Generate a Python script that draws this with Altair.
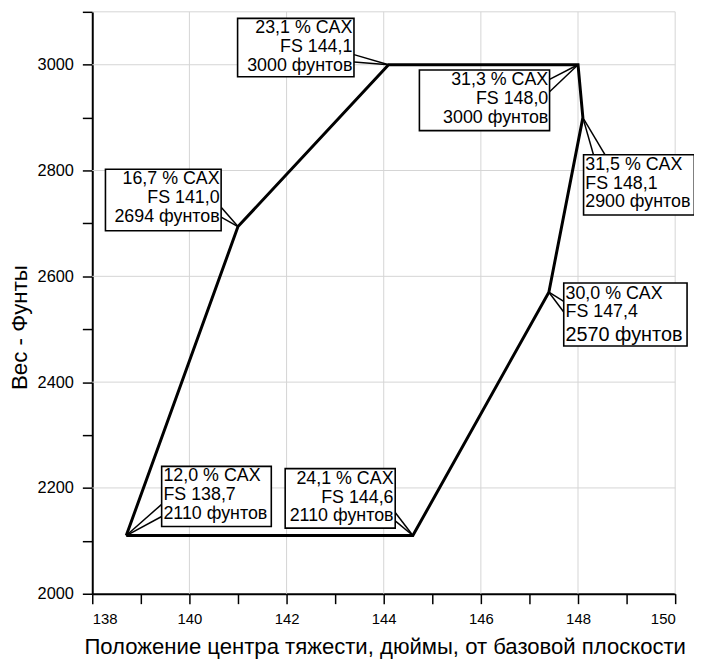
import altair as alt
import pandas as pd

# ---- data ----
CG = [138.7, 141.0, 144.1, 148.0, 148.1, 147.4, 144.6]      # inches
WEIGHT = [2110, 2694, 3000, 3000, 2900, 2570, 2110]         # pounds
MAC = ["12,0", "16,7", "23,1", "31,3", "31,5", "30,0", "24,1"]  # % CAX
GRID_X = [140, 142, 144, 146, 148, 150]
GRID_Y = [2200, 2400, 2600, 2800, 3000, 3100]
X_TICKS = [138 + 0.5 * i for i in range(25)]
Y_TICKS = [2000 + 50 * i for i in range(23)]

X_TITLE = "Положение центра тяжести, дюймы, от базовой плоскости"
Y_TITLE = "Вес - Фунты"
FONT = "Liberation Sans"

# ---- layout ----
W, H = 588, 587
PXX = W / 12.0
PXY = H / 1100.0
FS = 18

# callout layout, pixel offsets from each point (screen y down)
LAYOUT = [
    dict(box=(35.7, 146.3, -69.8, -9.2), align="left", tx=37.5, lines=(-59.8, -40.5, -21.8), sizes=(FS, FS, FS), lead=((35.7, -31.5), (35.7, -19.2))),
    dict(box=(-133.7, -17, -57.8, 4.2), align="right", tx=-18.5, lines=(-47.5, -28.5, -9.8), sizes=(FS, FS, FS), lead=((-17, -19.5), (-17, -9.5))),
    dict(box=(-152.3, -34.9, -46.8, 12.2), align="right", tx=-36.5, lines=(-36.8, -17.8, 1.2), sizes=(FS, FS, FS), lead=((-34.9, -10.2), (-34.9, -2.8))),
    dict(box=(-160, -28.7, 5.4, 66.5), align="right", tx=-30, lines=(15.6, 34.8, 54.0), sizes=(FS, FS, FS), lead=((-28.7, 14.8), (-28.7, 27.2))),
    dict(box=(0.7, 112.4, 37.5, 98.2), align="left", tx=2.4, lines=(48.2, 67.2, 85.5), sizes=(FS, FS, FS), lead=((10.7, 37.5), (22.4, 37.5))),
    dict(box=(15, 139.4, -9.3, 54.3), align="left", tx=16.8, lines=(1.7, 20, 43.3), sizes=(FS, FS, 20), lead=((15, 9.3), (15, 20))),
    dict(box=(-128.8, -17.8, -67.5, -7.5), align="right", tx=-19.5, lines=(-57.2, -38.2, -19.2), sizes=(FS, FS, FS), lead=((-17.8, -23.2), (-17.8, -14.8))),
]


def ux(cg, dx):
    return cg + dx / PXX


def uy(w, dy):
    return w - dy / PXY


# envelope polygon (closed)
poly = pd.DataFrame({
    "cg": CG + [CG[0]],
    "w": WEIGHT + [WEIGHT[0]],
    "i": list(range(len(CG) + 1)),
})

boxes, texts, leads = [], [], []
for cg, w, mac, lay in zip(CG, WEIGHT, MAC, LAYOUT):
    l, r, t, b = lay["box"]
    boxes.append(dict(x=ux(cg, l), x2=ux(cg, r), y=uy(w, t), y2=uy(w, b)))
    strs = [f"{mac} % CAX", "FS " + f"{cg:.1f}".replace(".", ","), f"{w} фунтов"]
    for s, dy, fs in zip(strs, lay["lines"], lay["sizes"]):
        texts.append(dict(x=ux(cg, lay["tx"]), y=uy(w, dy), t=s, fs=fs, align=lay["align"]))
    for (ex, ey) in lay["lead"]:
        leads.append(dict(x=cg, y=w, x2=ux(cg, ex), y2=uy(w, ey)))

boxes = pd.DataFrame(boxes)
texts = pd.DataFrame(texts)
leads = pd.DataFrame(leads)

xs = alt.Scale(domain=[138, 150], nice=False, zero=False)
ys = alt.Scale(domain=[2000, 3100], nice=False, zero=False)

x_axis = alt.Axis(
    values=X_TICKS, format="d", labelExpr="datum.value % 2 == 0 ? datum.label : ''",
    grid=False, domainColor="black", domainWidth=2, tickColor="black", tickWidth=1.5,
    tickSize=10, labelFontSize=15, labelPadding=8, labelFont=FONT, labelColor="black",
    title=X_TITLE, titleFont=FONT, titleFontSize=22.3, titleFontWeight="normal", titleColor="black",
    titleX=295, titleY=60, titleAlign="center", titleBaseline="alphabetic",
)
y_axis = alt.Axis(
    values=Y_TICKS, format="d", labelExpr="datum.value % 200 == 0 ? datum.label : ''",
    grid=False, domainColor="black", domainWidth=2, tickColor="black", tickWidth=1.5,
    tickSize=10, labelFontSize=16.5, labelPadding=9, labelFont=FONT, labelColor="black",
    title=Y_TITLE, titleFont=FONT, titleFontSize=22.5, titleFontWeight="normal", titleColor="black",
    titleX=-73, titleY=318, titleAngle=270, titleAlign="center", titleBaseline="middle",
)

gx = alt.Chart(pd.DataFrame({"v": GRID_X})).mark_rule(color="#d4d4d4", strokeWidth=1).encode(
    x=alt.X("v:Q", scale=xs, axis=x_axis))
gy = alt.Chart(pd.DataFrame({"v": GRID_Y})).mark_rule(color="#d4d4d4", strokeWidth=1).encode(
    y=alt.Y("v:Q", scale=ys, axis=y_axis))

line = alt.Chart(poly).mark_line(color="black", strokeWidth=3, strokeJoin="miter").encode(
    x=alt.X("cg:Q", scale=xs), y=alt.Y("w:Q", scale=ys), order="i:Q")

lead = alt.Chart(leads).mark_rule(color="black", strokeWidth=1.5).encode(
    x=alt.X("x:Q", scale=xs), y=alt.Y("y:Q", scale=ys), x2="x2:Q", y2="y2:Q")

box = alt.Chart(boxes).mark_rect(fill="white", stroke="black", strokeWidth=1.6).encode(
    x=alt.X("x:Q", scale=xs), x2="x2:Q", y=alt.Y("y:Q", scale=ys), y2="y2:Q")

txt_l = alt.Chart(texts).transform_filter("datum.align == 'left'").mark_text(
    align="left", baseline="middle", font=FONT, color="black").encode(
    x=alt.X("x:Q", scale=xs), y=alt.Y("y:Q", scale=ys), text="t:N",
    size=alt.Size("fs:Q", scale=None, legend=None))
txt_r = alt.Chart(texts).transform_filter("datum.align == 'right'").mark_text(
    align="right", baseline="middle", font=FONT, color="black").encode(
    x=alt.X("x:Q", scale=xs), y=alt.Y("y:Q", scale=ys), text="t:N",
    size=alt.Size("fs:Q", scale=None, legend=None))

chart = alt.layer(gx, gy, line, lead, box, txt_l, txt_r).properties(
    width=W, height=H,
    autosize=alt.AutoSizeParams(type="none"),
    padding={"left": 85, "top": 1, "right": 19, "bottom": 66},
    background="white",
).configure_view(stroke=None)

chart.save("out.html", embed_options={"renderer": "svg", "actions": False})
